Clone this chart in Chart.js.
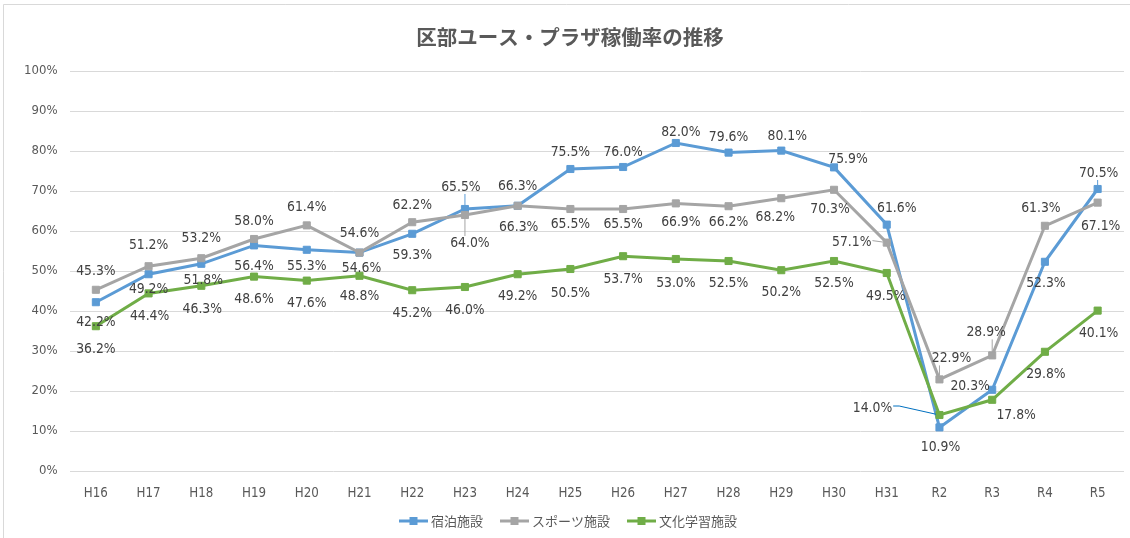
<!DOCTYPE html>
<html><head><meta charset="utf-8">
<script src="https://cdn.jsdelivr.net/npm/chart.js@4.4.0/dist/chart.umd.min.js"></script>
<style>html,body{margin:0;padding:0;background:#fff;}#wrap{width:1130px;height:538px;position:relative;}</style>
</head><body><div id="wrap"><canvas id="c" width="1130" height="538"></canvas></div>
<script>
const chartTitle = '区部ユース・プラザ稼働率の推移';
const categories = ['H16','H17','H18','H19','H20','H21','H22','H23','H24','H25','H26','H27','H28','H29','H30','H31','R2','R3','R4','R5'];
const seriesNames = ['宿泊施設','スポーツ施設','文化学習施設'];
const lodging = [42.2,49.2,51.8,56.4,55.3,54.6,59.3,65.5,66.3,75.5,76.0,82.0,79.6,80.1,75.9,61.6,10.9,20.3,52.3,70.5];
const sports  = [45.3,51.2,53.2,58.0,61.4,54.6,62.2,64.0,66.3,65.5,65.5,66.9,66.2,68.2,70.3,57.1,22.9,28.9,61.3,67.1];
const culture = [36.2,44.4,46.3,48.6,47.6,48.8,45.2,46.0,49.2,50.5,53.7,53.0,52.5,50.2,52.5,49.5,14.0,17.8,29.8,40.1];
const yTicks = [0,10,20,30,40,50,60,70,80,90,100];

// data label placement (offset from the point in px) and leader-line flags
const lodgingLabelPos = [[0,20],[0,15],[2,17],[0,21],[0,17],[2,16],[0,22],[-4,-22],[0,-19],[0,-17],[0,-15],[5,-11],[0,-15],[6,-14],[14,-8],[10,-16],[1,20],[-22,-3],[1,22],[1,-16]];
const sportsLabelPos  = [[0,-18],[0,-21],[0,-20],[0,-18],[0,-18],[0,-19],[0,-17],[5,28],[1,22],[0,15],[0,15],[5,19],[0,16],[-6,19],[-4,20],[-35,0],[12,-21],[-6,-23],[-4,-17],[3,24]];
const cultureLabelPos = [[0,23],[1,23],[1,24],[0,23],[0,23],[0,21],[0,23],[0,23],[0,22],[0,24],[0,23],[0,24],[0,22],[0,22],[0,22],[-1,23],[-67,-7],[24,16],[1,23],[1,23]];
const lodgingLeader = [7,19];
const sportsLeader = [7,15,16,17];
const cultureLeader = [16];

const colors = ['#5B9BD5','#A5A5A5','#70AD47'];
const leaderColors = ['#5B9BD5','#A5A5A5','#0070C0'];
const labelPos = [lodgingLabelPos, sportsLabelPos, cultureLabelPos];
const leaders = [lodgingLeader, sportsLeader, cultureLeader];
const FONT = '"DejaVu Sans Condensed","Noto Sans CJK JP",sans-serif';
const CJK = '"Noto Sans CJK JP",sans-serif';
const TXT = '#595959';

const deco = {
  id:'deco',
  beforeDraw(chart){
    const ctx = chart.ctx;
    ctx.save();
    ctx.fillStyle='#fff'; ctx.fillRect(0,0,chart.width,chart.height);
    ctx.strokeStyle='#D9D9D9'; ctx.lineWidth=1;
    ctx.beginPath(); ctx.moveTo(3.5,chart.height); ctx.lineTo(3.5,4.5); ctx.lineTo(chart.width,4.5); ctx.stroke();
    ctx.fillStyle=TXT; ctx.font='bold 20.5px '+CJK; ctx.textAlign='center'; ctx.textBaseline='middle';
    ctx.fillText(chartTitle, 570, 37);
    ctx.restore();
  },
  afterDatasetsDraw(chart){
    const ctx = chart.ctx;
    ctx.save();
    ctx.font = '13.8px '+FONT;
    ctx.textAlign='center'; ctx.textBaseline='middle';
    chart.data.datasets.forEach((ds,di)=>{
      const meta = chart.getDatasetMeta(di);
      meta.data.forEach((pt,i)=>{
        const [dx,dy] = labelPos[di][i];
        const lx = pt.x+dx, ly = pt.y+dy;
        const txt = ds.data[i].toFixed(1)+'%';
        if (leaders[di].includes(i)) {
          const w = ctx.measureText(txt).width/2+1, h = 7;
          let sx = Math.min(Math.max(pt.x, lx-w), lx+w);
          let sy = Math.min(Math.max(pt.y, ly-h), ly+h);
          if (Math.abs(pt.x-lx) > w) sy = ly - 2;
          const ex = pt.x, ey = pt.y;
          const d = Math.hypot(ex-sx, ey-sy);
          if (d > 6) {
            const k = (d-4)/d;
            ctx.strokeStyle = leaderColors[di]; ctx.lineWidth = 1;
            ctx.beginPath(); ctx.moveTo(sx,sy);
            if (Math.abs(pt.x-lx) > w + 20) { ctx.lineTo(sx+6, sy); sx += 6; }
            ctx.lineTo(sx+(ex-sx)*k, sy+(ey-sy)*k); ctx.stroke();
          }
        }
        ctx.fillStyle='#404040';
        ctx.fillText(txt, lx, ly);
      });
    });
    // legend
    const items = seriesNames.map((n,i)=>({n, c:colors[i]}));
    ctx.font='13px '+CJK; ctx.textAlign='left';
    const lineW = 29, gap = 3, sep = 17;
    let total = 0;
    items.forEach(it=>{ it.w = ctx.measureText(it.n).width; total += lineW+gap+it.w; });
    total += sep*(items.length-1);
    let x = 568 - total/2; const y = 521;
    items.forEach(it=>{
      ctx.strokeStyle=it.c; ctx.lineWidth=3;
      ctx.beginPath(); ctx.moveTo(x,y); ctx.lineTo(x+lineW,y); ctx.stroke();
      ctx.fillStyle=it.c; ctx.fillRect(x+lineW/2-4, y-4, 8, 8);
      ctx.fillStyle=TXT; ctx.fillText(it.n, x+lineW+gap, y);
      x += lineW+gap+it.w+sep;
    });
    ctx.restore();
  }
};

const series = [lodging, sports, culture];
new Chart(document.getElementById('c'), {
  type:'line',
  data:{
    labels: categories,
    datasets: series.map((d,i)=>({
      label: seriesNames[i], data: d,
      borderColor: colors[i], backgroundColor: colors[i],
      borderWidth: 3, pointStyle:'rect', pointRadius:5, pointBorderWidth:1,
      pointBackgroundColor: colors[i], pointBorderColor: colors[i],
      tension:0, order: 3-i
    }))
  },
  options:{
    responsive:false, animation:false, devicePixelRatio:1,
    layout:{padding:{left:0,right:5.5,top:71,bottom:37}},
    plugins:{legend:{display:false}, title:{display:false}, tooltip:{enabled:false}},
    scales:{
      x:{offset:true, grid:{display:false, drawTicks:false}, border:{display:false},
         ticks:{color:TXT, font:{family:FONT, size:13.2}, padding:15, maxRotation:0},
         afterFit(s){ s.height = 30; }},
      y:{min:0, max:100, afterBuildTicks(s){ s.ticks = yTicks.map(v=>({value:v})); },
         grid:{color:'#D9D9D9', lineWidth:1, drawTicks:false}, border:{display:false},
         ticks:{color:TXT, font:{family:FONT, size:13}, padding:12, callback:v=>v+'%'},
         afterFit(s){ s.width = 69.5; }}
    }
  },
  plugins:[deco]
});
</script></body></html>
